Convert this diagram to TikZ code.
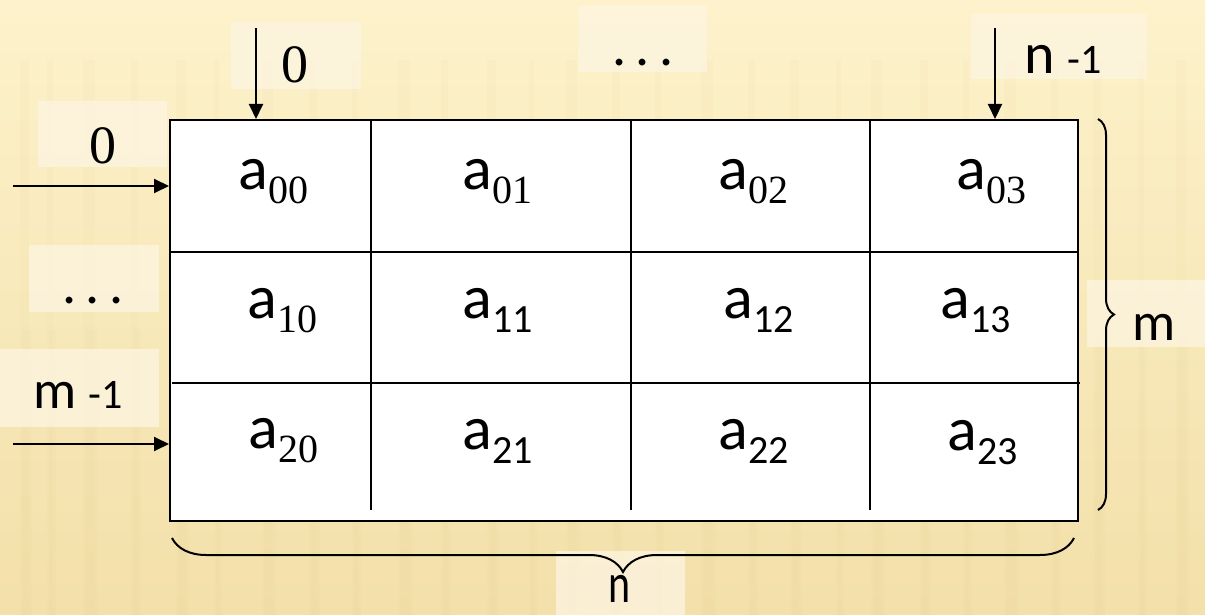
\documentclass[tikz,border=0pt]{standalone}
\usepackage{fontspec}
\setmainfont{Liberation Serif}
\newfontfamily\carl{Carlito}
\usetikzlibrary{arrows.meta,decorations.pathreplacing}
\definecolor{bgtop}{HTML}{FDF2CB}
\definecolor{bgbot}{HTML}{F3E0AA}
\definecolor{stripe}{HTML}{E6CF90}
\definecolor{labbox}{HTML}{FDF5E2}
\newcommand\aS[1]{{\carl a}\raisebox{-7pt}{\fontsize{20}{20}\selectfont #1}}
\newcommand\aC[1]{{\carl a}\raisebox{-7pt}{\carl\fontsize{20}{20}\selectfont #1}}
\begin{document}
\begin{tikzpicture}[x=0.5pt,y=-0.5pt,
  lblbox/.style={fill=labbox,fill opacity=0.75,draw=none,inner sep=0pt},
  celltext/.style={anchor=base west,inner sep=0pt,font=\fontsize{31}{31}\selectfont},
  txt/.style={inner sep=0pt,anchor=base},
  arr/.style={line width=1pt,-{Triangle[length=7.5pt,width=7pt]}},
  inner/.style={line width=0.8pt},
  bracestyle/.style={line width=1pt,decorate}]
\useasboundingbox (0,0) rectangle (1205,615);
\shade[top color=bgtop,bottom color=bgbot] (0,0) rectangle (1205,615);
\foreach \x/\w in {20/9,47/6,83/12,131/7,176/10,214/5,262/11,309/8,352/6,398/12,441/7,487/9,529/5,566/11,612/8,655/6,701/12,748/7,790/9,836/5,871/11,920/8,963/6,1004/12,1051/7,1093/9,1138/6,1176/10}
  {\fill[stripe,opacity=0.07] (\x,60) rectangle (\x+\w,615);
   \fill[stripe,opacity=0.08] (\x+2,330) rectangle (\x+\w+3,615);}

% label boxes
\node[lblbox,minimum width=65pt,minimum height=33.5pt] (b0top) at (296,55.5) {};
\node[lblbox,minimum width=64.5pt,minimum height=33pt] (bdots) at (642.5,39) {};
\node[lblbox,minimum width=88pt,minimum height=32.5pt] (bn1) at (1059,46.5) {};
\node[lblbox,minimum width=64.5pt,minimum height=33pt] (b0left) at (102.5,134) {};
\node[lblbox,minimum width=65pt,minimum height=33.5pt] (bdotsl) at (94,278.5) {};
\node[lblbox,minimum width=79.5pt,minimum height=39pt] (bm1) at (79.5,388) {};
\node[lblbox,minimum width=59pt,minimum height=33.5pt] (bm) at (1146,313.5) {};
\node[lblbox,minimum width=64.5pt,minimum height=32pt] (bn) at (620.5,583) {};

% grid
\node[draw,line width=1pt,fill=white,minimum width=454pt,minimum height=200.5pt,anchor=north west,inner sep=0pt] (grid) at (169,119) {};
\draw[inner] (371,121) -- (371,510);
\draw[inner] (631,121) -- (631,510);
\draw[inner] (870,121) -- (870,510);
\draw[inner] (169,252) -- (1077,252);
\draw[inner] (172,383) -- (1080,383);

% cell labels
\node[celltext] (a00) at (238,190) {\aS{00}};
\node[celltext] (a01) at (462,190) {\aS{01}};
\node[celltext] (a02) at (718,190) {\aS{02}};
\node[celltext] (a03) at (956,190) {\aS{03}};
\node[celltext] (a10) at (247,318) {\aS{10}};
\node[celltext] (a11) at (462,318) {\aC{11}};
\node[celltext] (a12) at (723,318) {\aC{12}};
\node[celltext] (a13) at (940,318) {\aC{13}};
\node[celltext] (a20) at (248,448) {\aS{20}};
\node[celltext] (a21) at (462,449) {\aC{21}};
\node[celltext] (a22) at (718,449) {\aC{22}};
\node[celltext] (a23) at (947,450) {\aC{23}};

% outer labels
\node[txt,font=\fontsize{27}{27}\selectfont] (t0top) at (295,83) {0};
\node[txt,font=\fontsize{27}{27}\selectfont] (t0left) at (103,163) {0};
\node[txt,font=\carl\fontsize{28}{28}\selectfont] (tdots) at (643,66) {.\,.\,.};
\node[txt,font=\carl\fontsize{28}{28}\selectfont] (tdotsl) at (93,303) {.\,.\,.};
\node[txt,anchor=base west,font=\carl\fontsize{29}{29}\selectfont] (tn1) at (1024,74) {n {\fontsize{21}{21}\selectfont -1}};
\node[txt,anchor=base west,font=\carl\fontsize{27}{27}\selectfont] (tm1) at (33,408) {m {\fontsize{21}{21}\selectfont -1}};
\node[txt,anchor=base west,font=\carl\fontsize{27}{27}\selectfont] (tm) at (1132,340) {m};
\node[txt,font=\carl\fontsize{28}{28}\selectfont,xscale=0.75] (tn) at (620,602) {n};

% arrows
\coordinate (s0) at (256,28);
\coordinate (sn) at (995,28);
\coordinate (l0) at (13,186);
\coordinate (lm) at (13,444);
\draw[arr] (s0) -- (s0 |- grid.north);
\draw[arr] (sn) -- (sn |- grid.north);
\draw[arr] (l0) -- (l0 -| grid.west);
\draw[arr] (lm) -- (lm -| grid.west);

% braces
\coordinate (rb1) at (1098,119);
\coordinate (rb2) at (1098,510);
\draw[bracestyle,decoration={brace,amplitude=8pt}] (rb1) -- (rb2);
\coordinate (bb1) at (1074,538);
\coordinate (bb2) at (172,538);
\draw[bracestyle,decoration={brace,amplitude=17pt}] (bb1) -- (bb2);
\end{tikzpicture}
\end{document}
